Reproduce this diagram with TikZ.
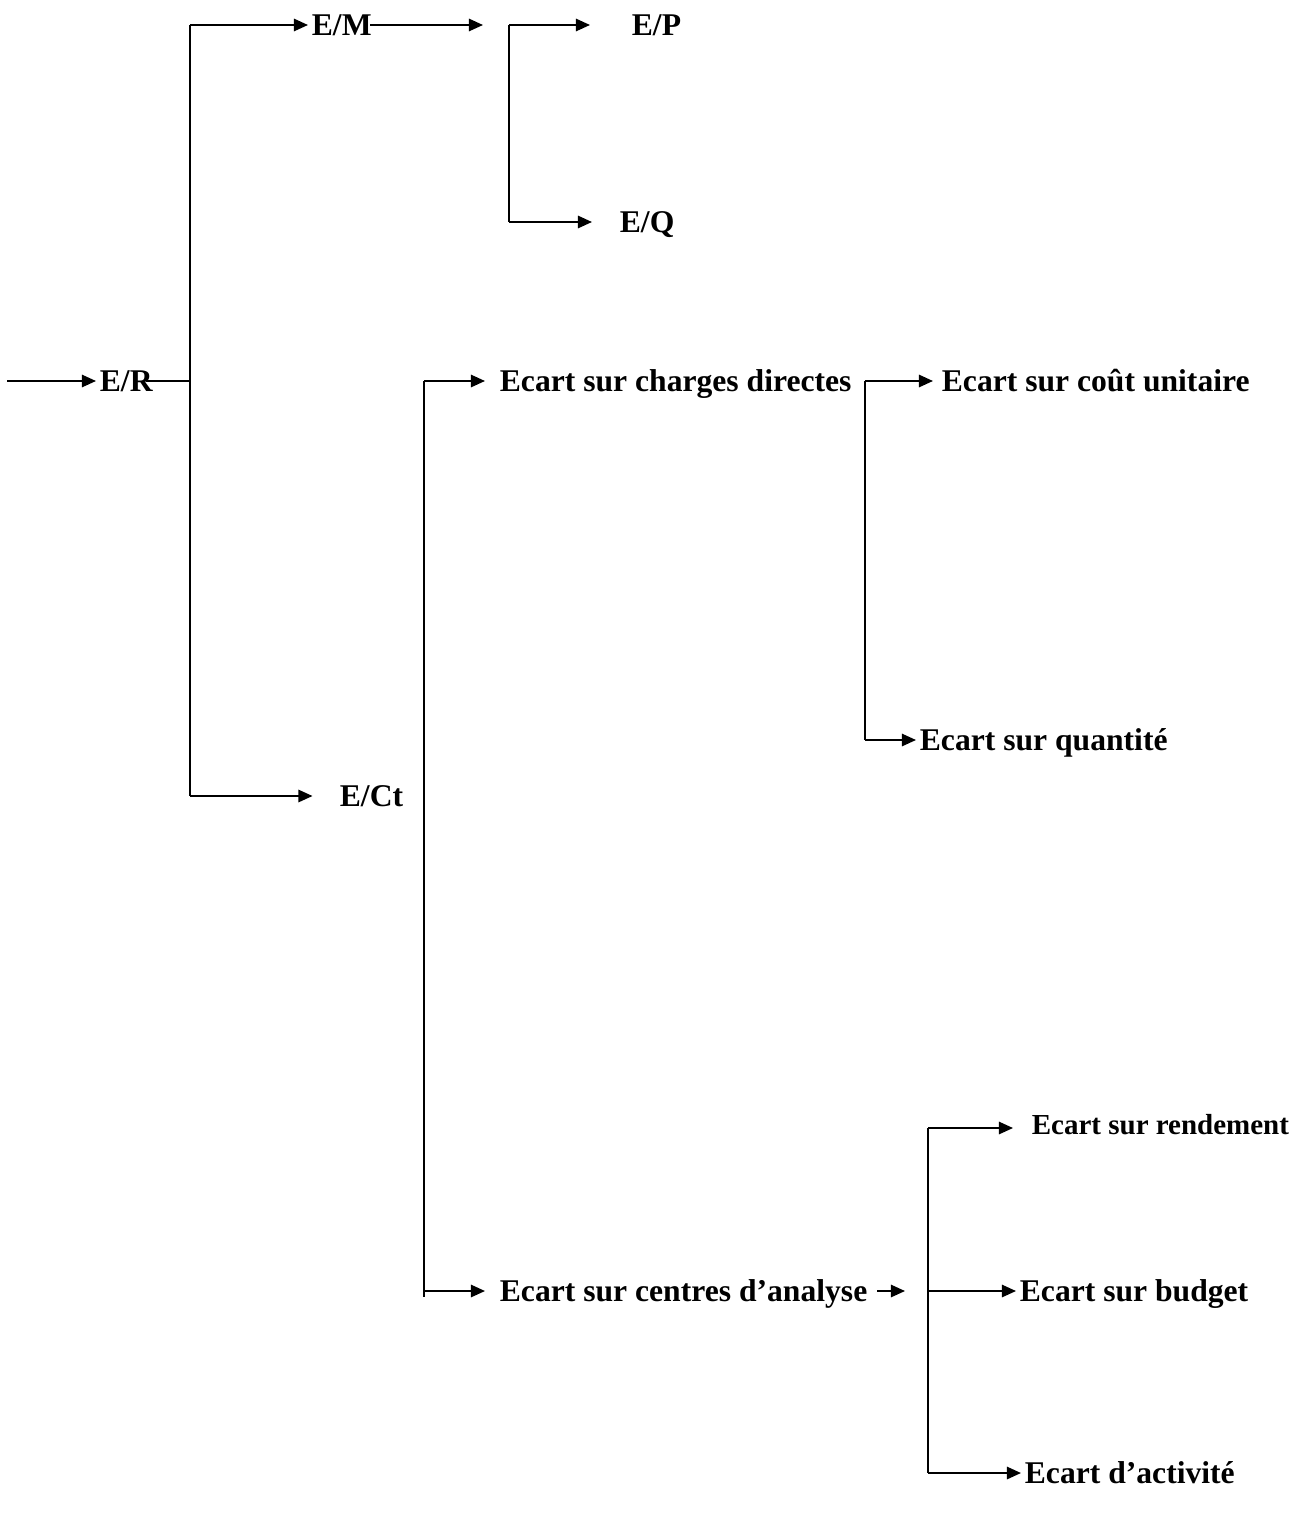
\documentclass[tikz,border=0pt]{standalone}
\usepackage{fontspec}
\setmainfont{Liberation Serif}
\usetikzlibrary{arrows.meta}

\tikzset{
  lbl/.style={font=\fontsize{18}{21}\selectfont\bfseries,inner sep=2pt,
    text height=12pt,text depth=0pt,anchor=west},
  smalllbl/.style={lbl,font=\fontsize{16.5}{19}\selectfont\bfseries},
  ln/.style={line width=1.1pt},
  arr/.style={ln,-{Triangle[length=8pt,width=7pt]}},
}

\begin{document}
\begin{tikzpicture}[x=0.02cm,y=-0.02cm,line cap=butt,line join=miter]
\useasboundingbox (0,0) rectangle (1304,1520);

% labels
\node[lbl] (er)  at (96,381)   {E/R};
\node[lbl] (em)  at (308,25)   {E/M};
\node[lbl] (ep)  at (628,25)   {E/P};
\node[lbl] (eq)  at (616,222)  {E/Q};
\node[lbl] (ect) at (336,796)  {E/Ct};
\node[lbl] (ecd) at (496,381)  {Ecart sur charges directes};
\node[lbl] (ecu) at (938,381)  {Ecart sur coût unitaire};
\node[lbl] (eqt) at (916,740)  {Ecart sur quantité};
\node[lbl] (eca) at (496,1291) {Ecart sur centres d’analyse};
\node[smalllbl] (ere) at (1028,1124) {Ecart sur rendement};
\node[lbl] (ebu) at (1016,1291) {Ecart sur budget};
\node[lbl] (eac) at (1021,1473) {Ecart d’activité};

% trunks and brackets
\coordinate (in)    at (7,381);
\coordinate (t1top) at (190,25);
\coordinate (t1bot) at (190,796);
\coordinate (emout) at (483,25);
\coordinate (b1top) at (509,25);
\coordinate (b1bot) at (509,222);
\coordinate (t2top) at (424,381);
\coordinate (t2bot) at (424,1297);
\coordinate (b3top) at (865,381);
\coordinate (b3bot) at (865,740);
\coordinate (ecaout) at (905,1291);
\coordinate (b4top) at (928,1128);
\coordinate (b4bot) at (928,1473);

\draw[arr] (in) -- (er);
\draw[ln] ([xshift=-0.2cm]er.east) -- (er.east -| t1top);
\draw[ln] (t1top) -- (t1bot);
\draw[arr] (t1top) -- (em);
\draw[arr,shorten >=0.47cm] (t1bot) -- (ect);

\draw[arr] ([xshift=-0.1cm]em.east) -- (emout);
\draw[ln] (b1top) -- (b1bot);
\draw[arr,shorten >=0.76cm] (b1top) -- (ep);
\draw[arr,shorten >=0.48cm] (b1bot) -- (eq);

\draw[ln] (t2top) -- (t2bot);
\draw[arr,shorten >=0.22cm] (t2top) -- (ecd);
\draw[arr,shorten >=0.22cm] (t2top |- eca) -- (eca);

\draw[ln] (b3top) -- (b3bot);
\draw[arr,shorten >=0.1cm] (b3top) -- (ecu);
\draw[arr] (b3bot) -- (eqt);

\draw[arr,shorten <=0.12cm] (eca.east) -- (ecaout);
\draw[ln] (b4top) -- (b4bot);
\draw[arr,shorten >=0.3cm] (b4top) -- (b4top -| ere.west);
\draw[arr] (b4top |- ebu) -- (ebu);
\draw[arr] (b4bot) -- (eac);
\end{tikzpicture}
\end{document}
